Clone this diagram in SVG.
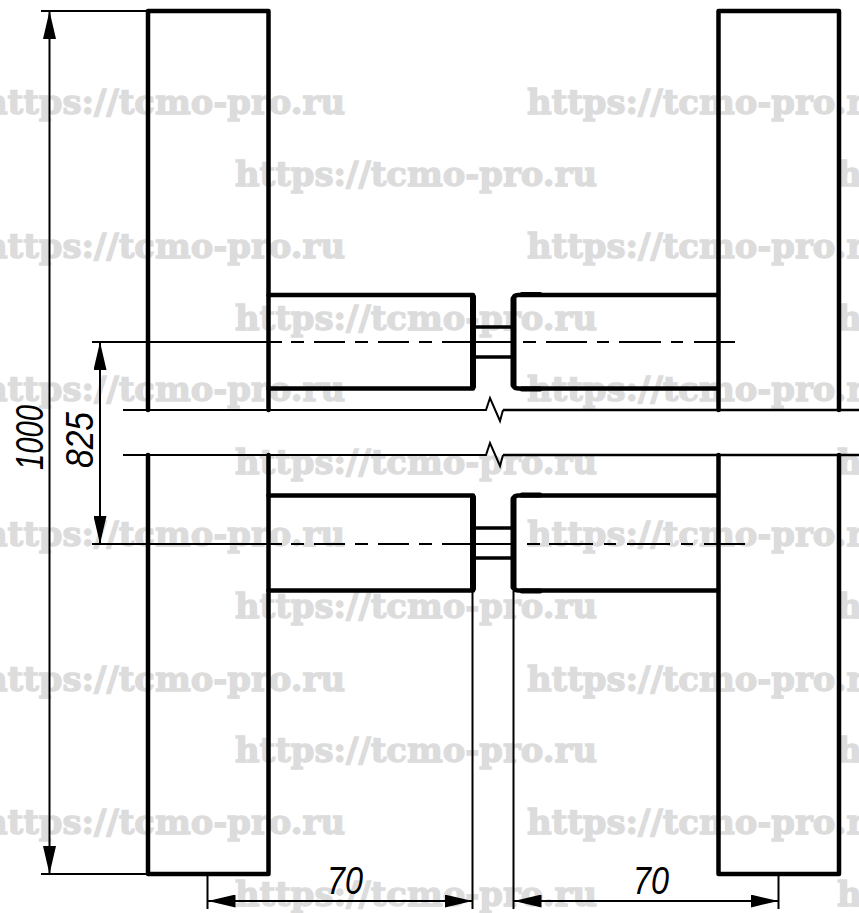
<svg xmlns="http://www.w3.org/2000/svg" width="859" height="913" viewBox="0 0 859 913">
<style>
.wm{font-family:"DejaVu Serif","Liberation Serif",serif;font-weight:bold;font-size:33px;fill:#dcdcdc;stroke:#dcdcdc;stroke-width:1.300}
.dim{font-family:"Liberation Sans",Arial,sans-serif;font-style:italic;font-size:38px;fill:#000}
.thick{fill:none;stroke:#000;stroke-width:4.500;stroke-linejoin:round;stroke-linecap:round}
.heavy{fill:none;stroke:#000;stroke-width:6;stroke-linecap:round}
.thin{fill:none;stroke:#000;stroke-width:2}
.mid{fill:none;stroke:#000;stroke-width:2.500}
.conn{fill:none;stroke:#000;stroke-width:3.500}
</style>
<defs>
<g id="row-a"><text class="wm" x="-17" y="0" textLength="362" lengthAdjust="spacingAndGlyphs">https://tcmo-pro.ru</text><text class="wm" x="527" y="0" textLength="362" lengthAdjust="spacingAndGlyphs">https://tcmo-pro.ru</text></g>
<g id="row-b"><text class="wm" x="235" y="0" textLength="362" lengthAdjust="spacingAndGlyphs">https://tcmo-pro.ru</text><text class="wm" x="837" y="0" textLength="362" lengthAdjust="spacingAndGlyphs">https://tcmo-pro.ru</text></g>
<marker id="ah" viewBox="0 0 28 13" refX="28" refY="6.500" markerWidth="28" markerHeight="13" markerUnits="userSpaceOnUse" orient="auto-start-reverse"><path d="M28 6.500L0 0V13Z" fill="#000"/></marker>
</defs>
<rect width="859" height="913" fill="#fff"/>
<g id="watermark">
<use href="#row-a" y="114"/><use href="#row-b" y="186"/><use href="#row-a" y="258"/><use href="#row-b" y="330"/>
<use href="#row-a" y="401"/><use href="#row-b" y="474"/><use href="#row-a" y="546"/><use href="#row-b" y="618"/>
<use href="#row-a" y="691"/><use href="#row-b" y="762"/><use href="#row-a" y="834"/><use href="#row-b" y="906"/>
</g>
<g id="upright-left">
<path class="thick" d="M148 410V11H268.500V410"/>
<path class="thick" d="M148 455V874H268.500V455"/>
</g>
<g id="upright-right">
<path class="thick" d="M718.500 410V11H839V410"/>
<path class="thick" d="M718.500 455V874H839V455"/>
</g>
<g id="rung-upper">
<path class="thick" d="M268.500 295H473V388.500H268.500"/>
<path class="heavy" d="M473 297V386.500"/>
<path class="thick" d="M718 295H518Q513.500 295 513.500 299V384.500Q513.500 388.500 518 388.500H718"/>
<path class="heavy" d="M513.500 299V385"/>
<path d="M522 294.500H540M522 389H540" fill="none" stroke="#000" stroke-width="5" stroke-linecap="round"/>
<path class="conn" d="M475 327H512M475 357H512"/>
</g>
<g id="rung-lower">
<path class="thick" d="M268.500 495.500H473V590.500H268.500"/>
<path class="heavy" d="M473 497.500V588.500"/>
<path class="thick" d="M718 495.500H518Q513.500 495.500 513.500 499.500V586.500Q513.500 590.500 518 590.500H718"/>
<path class="heavy" d="M513.500 499V587"/>
<path d="M522 495H540M522 591H540" fill="none" stroke="#000" stroke-width="5" stroke-linecap="round"/>
<path class="conn" d="M475 528H512M475 558H512"/>
</g>
<g id="connectors">
<path class="thin" d="M123 410H486L490 398L500 421L503 410"/>
<path class="mid" d="M503 410H859"/>
<path class="thin" d="M123 455H486L490 443L500 466L503 455"/>
<path class="mid" d="M503 455H859"/>
<path class="thin" d="M92 342H282M291 342H304M314 342H345M355 342H368M378 342H409M419 342H432M442 342H514M523 342H536M546 342H587M597 342H609M619 342H661M671 342H683M694 342H735"/>
<path class="thin" d="M92 544H282M291 544H304M314 544H345M355 544H368M378 544H409M419 544H432M442 544H514M527 544H540M549 544H593M604 544H616M627 544H670M681 544H693M704 544H745"/>
<path class="thin" d="M41 11H148M41 874H148"/>
<path class="thin" d="M49.500 11V874" marker-start="url(#ah)" marker-end="url(#ah)"/>
<path class="thin" d="M100 342V544" marker-start="url(#ah)" marker-end="url(#ah)"/>
<path class="thin" d="M207.500 874V909M472.500 591V909M513.500 591V909M778.500 874V909"/>
<path class="thin" d="M207.500 901H472.500" marker-start="url(#ah)" marker-end="url(#ah)"/>
<path class="thin" d="M513.500 901H778.500" marker-start="url(#ah)" marker-end="url(#ah)"/>
</g>
<g id="labels">
<text class="dim" transform="translate(43 470) rotate(-90)" textLength="65" lengthAdjust="spacingAndGlyphs">1000</text>
<text class="dim" transform="translate(93 468) rotate(-90)" textLength="56" lengthAdjust="spacingAndGlyphs">825</text>
<text class="dim" x="327" y="894" textLength="36" lengthAdjust="spacingAndGlyphs">70</text>
<text class="dim" x="633" y="894" textLength="36" lengthAdjust="spacingAndGlyphs">70</text>
</g>
</svg>
